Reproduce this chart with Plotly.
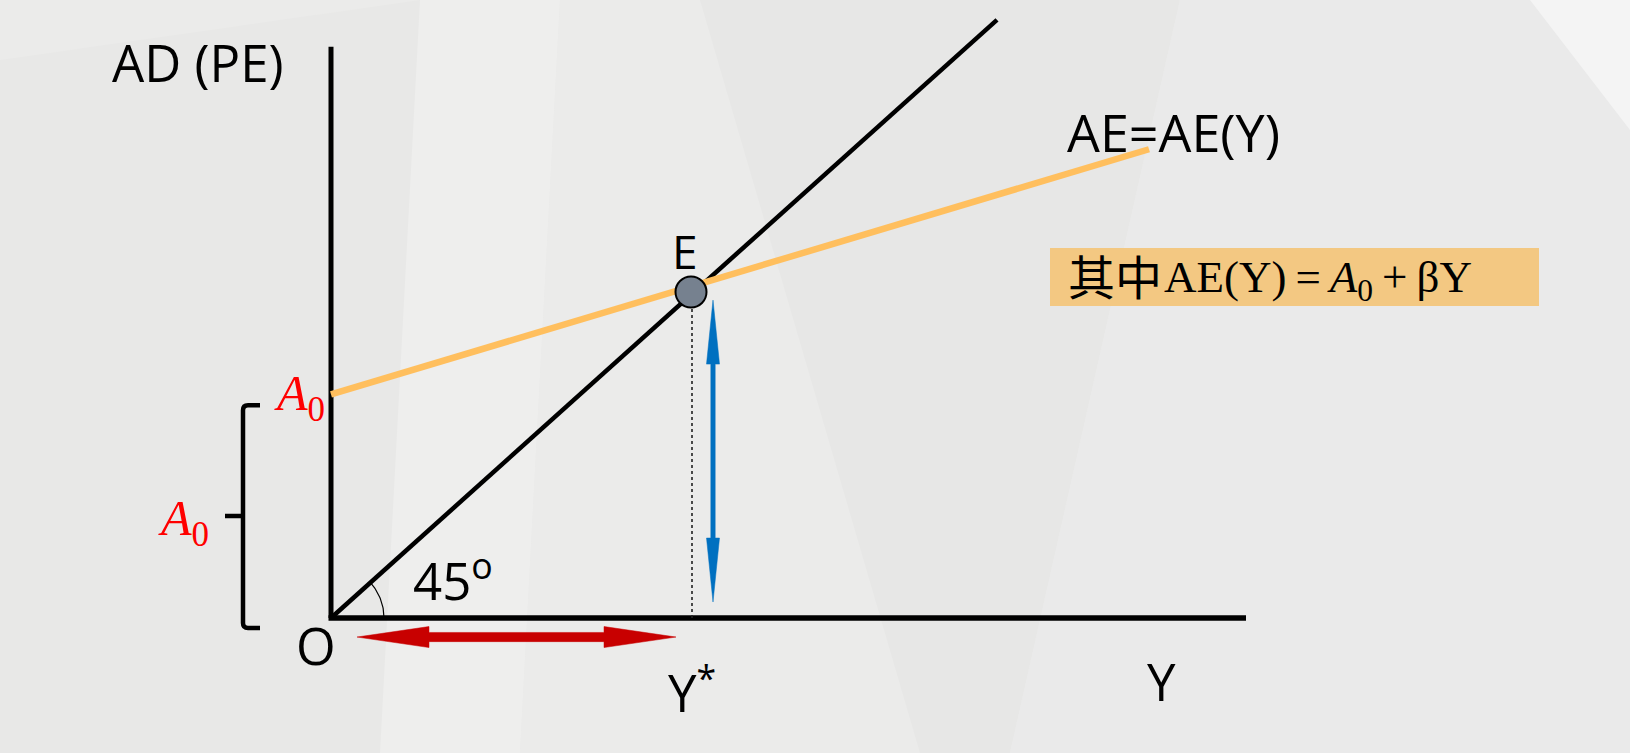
import numpy as np
import plotly.graph_objects as go

# ---------------- data (diagram units; the 45-degree line is AE = Y) ----------------
axis_Y_end = 915          # length of the Y axis
axis_AD_top = 636         # height of the AD (PE) axis
line45_Y = [0, 666]       # 45-degree line  AE = Y
line45_AE = [0, 666]
ae_Y = [0, 818]           # AE = A0 + beta*Y
ae_AE = [249, 522]
A0 = 249
E_Y, E_AE = 360, 363      # equilibrium point E
Y_star = 361
blue_arrow_Y = 382
blue_arrow_AE = [17.8, 354]
red_arrow_AE = -21.2
red_arrow_Y = [26, 345]
brace_Y = -88
brace_AE = [-11, 237]
brace_tip_AE = 113.6

# ---------------- geometry of the canvas ----------------
W, H = 1630, 753
KX, KY = 1.0, 0.898       # pixels per unit
X0, Y0 = 331, 618         # pixel position of the origin O
xr = [-X0 / KX, (W - X0) / KX]
yr = [-(H - Y0) / KY, Y0 / KY]

def paper(px, py):
    return px / W, 1 - py / H

BLACK = "#000000"
ORANGE = "#FFBF5E"
BLUE = "#0070C0"
RED = "#C80000"

fig = go.Figure()

def line(x, y, color, width, dash="solid"):
    fig.add_trace(go.Scatter(x=x, y=y, mode="lines", hoverinfo="skip",
                             line=dict(color=color, width=width, dash=dash),
                             showlegend=False))

def polygon(x, y, color):
    fig.add_trace(go.Scatter(x=x, y=y, mode="lines", fill="toself", fillcolor=color,
                             line=dict(color=color, width=0.5), hoverinfo="skip",
                             showlegend=False))

# axes
line([0, 0], [0, axis_AD_top], BLACK, 5)
line([-2.5, axis_Y_end], [0, 0], BLACK, 5.5)
# 45-degree line
line(line45_Y, line45_AE, BLACK, 4.5)
# AE line
line(ae_Y, ae_AE, ORANGE, 6.5)
# dotted guide from E
line([Y_star, Y_star], [0, E_AE], "#222222", 1.6, "dot")

# 45-degree arc
ang = np.linspace(0, np.arctan2(line45_AE[1] * KY, line45_Y[1] * KX), 30)
r_px = 53
line(r_px * np.cos(ang) / KX, r_px * np.sin(ang) / KY, BLACK, 1.2)

# blue double arrow (vertical)
hl, hw, sw = 64 / KY, 6.5 / KX, 2.2 / KX
b0, b1 = blue_arrow_AE
bx = blue_arrow_Y
polygon([bx, bx + hw, bx + sw, bx + sw, bx + hw, bx, bx - hw, bx - sw, bx - sw, bx - hw, bx],
        [b1, b1 - hl, b1 - hl, b0 + hl, b0 + hl, b0, b0 + hl, b0 + hl, b1 - hl, b1 - hl, b1],
        BLUE)

# red double arrow (horizontal)
hl, hw, sw = 72 / KX, 10.5 / KY, 4.6 / KY
r0, r1 = red_arrow_Y
ry = red_arrow_AE
polygon([r0, r0 + hl, r0 + hl, r1 - hl, r1 - hl, r1, r1 - hl, r1 - hl, r0 + hl, r0 + hl, r0],
        [ry, ry + hw, ry + sw, ry + sw, ry + hw, ry, ry - hw, ry - sw, ry - sw, ry - hw, ry],
        RED)

# point E
fig.add_trace(go.Scatter(x=[E_Y], y=[E_AE], mode="markers", hoverinfo="skip", showlegend=False,
                         marker=dict(size=31, color="#76818F", line=dict(color=BLACK, width=2))))

# brace
bt, bb = brace_AE[1], brace_AE[0]
bxl = brace_Y
hook = 17 / KX
rc = 5
path = (f"M {bxl + hook},{bt} L {bxl + rc / KX},{bt} Q {bxl},{bt} {bxl},{bt - rc / KY} "
        f"L {bxl},{bb + rc / KY} Q {bxl},{bb} {bxl + rc / KX},{bb} L {bxl + hook},{bb} "
        f"M {bxl},{brace_tip_AE} L {bxl - 18 / KX},{brace_tip_AE}")
fig.add_shape(type="path", path=path, xref="x", yref="y",
              line=dict(color=BLACK, width=4.5), layer="above")

# subtle background facets
def facet(pts, color):
    d = "M " + " L ".join(f"{px / W},{1 - py / H}" for px, py in pts) + " Z"
    fig.add_shape(type="path", path=d, xref="paper", yref="paper",
                  fillcolor=color, line=dict(width=0), layer="below")

facet([(0, 60), (420, 0), (560, 0), (520, 753), (0, 753)], "#E8E8E7")
facet([(420, 0), (560, 0), (520, 753), (380, 753)], "#EEEEED")
facet([(700, 0), (1180, 0), (1010, 753), (920, 753)], "#E7E7E6")
facet([(1180, 0), (1630, 0), (1630, 753), (1010, 753)], "#EAEAEA")
facet([(1530, 0), (1630, 0), (1630, 130)], "#F4F4F4")

# formula box
bx0, by0 = paper(1050, 248)
bx1, by1 = paper(1539, 306)
fig.add_shape(type="rect", xref="paper", yref="paper", x0=bx0, x1=bx1, y0=by1, y1=by0,
              fillcolor="#F3C882", line=dict(width=0), layer="below")

SANS = "Open Sans"
SERIF = "Liberation Serif"

def label(text, px, py, size, color=BLACK, family=SANS, xanchor="center"):
    x, y = paper(px, py)
    fig.add_annotation(x=x, y=y, xref="paper", yref="paper", text=text, showarrow=False,
                       xanchor=xanchor, yanchor="middle",
                       font=dict(family=family, size=size, color=color))

label("AD (PE)", 198, 62, 51)
label("AE=AE(Y)", 1173, 131, 52)
label("E", 685, 251, 46)
label("O", 316, 645, 51)
label("Y<sup>*</sup>", 692, 690, 51)
label("Y", 1161, 681, 51)
label("45<sup>o</sup>", 453, 578, 51)
label("<i>A</i><sub>0</sub>", 299, 397, 50, color="#FF0000", family=SERIF)
label("<i>A</i><sub>0</sub>", 183, 522, 50, color="#FF0000", family=SERIF)
label("其中", 1066, 274, 47, family="Noto Sans CJK SC", xanchor="left")
label("AE(Y)\u2009=\u2009<i>A</i><sub>0</sub>\u2009+\u2009βY", 1162, 280, 45, family=SERIF, xanchor="left")

fig.update_layout(
    width=W, height=H, margin=dict(l=0, r=0, t=0, b=0),
    paper_bgcolor="#EBEBEA", plot_bgcolor="rgba(0,0,0,0)",
    xaxis=dict(range=xr, visible=False, fixedrange=True),
    yaxis=dict(range=yr, visible=False, fixedrange=True),
    showlegend=False,
)

fig.write_html("out.html", config={"displayModeBar": False},
               post_script="document.body.style.margin='0';document.body.style.padding='0';"
                           "document.body.style.overflow='hidden';")
